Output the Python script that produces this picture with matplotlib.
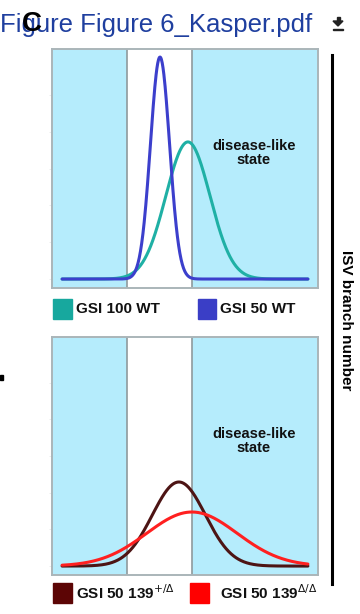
import numpy as np
import matplotlib

matplotlib.use("Agg")
import matplotlib.pyplot as plt
from matplotlib.patches import Rectangle, Polygon

plt.rcParams["font.family"] = ["Liberation Sans", "DejaVu Sans"]
plt.rcParams["mathtext.fontset"] = "dejavusans"

# normal range (unshaded band) on a 0-100 scale
normal_range = [28.2, 52.6]
x_span = [3.8, 96.2]

# top panel: normal distributions
top_labels = ["GSI 100 WT", "GSI 50 WT"]
top_means = [51.1, 40.6]
top_sds = [8.3, 3.6]
top_peaks = [0.596, 0.965]
top_line_colors = ["#1fb0a5", "#3c3fcc"]
top_box_colors = ["#17a89e", "#3a3ec6"]

# bottom panel
bot_labels = [r"GSI 50 139$^{+/\Delta}$", r"GSI 50 139$^{\Delta/\Delta}$"]
bot_means = [47.7, 52.6]
bot_sds = [10.0, 17.0]
bot_peaks = [0.367, 0.236]
bot_line_colors = ["#4d1414", "#ff2020"]
bot_box_colors = ["#5c0505", "#ff0000"]

W, H = 360, 614
BAND = "#b5ecfc"


def fx(px):
    return px / W


def fy(py):
    return 1 - py / H


def panel(ax, means, sds, peaks, colors):
    ax.set_xlim(0, 100)
    ax.set_ylim(-0.039, 1)
    ax.axvspan(0, normal_range[0], color=BAND, lw=0, zorder=0)
    ax.axvspan(normal_range[1], 100, color=BAND, lw=0, zorder=0)
    for v in normal_range:
        ax.axvline(v, color="#8f9a9c", lw=1.2, zorder=1)
    x = np.linspace(x_span[0], x_span[1], 600)
    for m, s, p, c in zip(means, sds, peaks, colors):
        ax.plot(x, p * np.exp(-0.5 * ((x - m) / s) ** 2), color=c, lw=2.2,
                solid_capstyle="round", zorder=3)
    for sp in ax.spines.values():
        sp.set_color("#aab5b9")
        sp.set_linewidth(1.4)
    ax.set_xticks([])
    ax.set_yticks([0, 0.16, 0.32, 0.48, 0.64, 0.80])
    ax.tick_params(axis="y", length=2, width=0.5, color="#e4e7e8", labelleft=False)
    ax.text(75.9, 0.547, "disease-like\nstate", ha="center", va="center",
            fontsize=10.5, fontweight="bold", linespacing=1.0, color="#111111")


fig = plt.figure(figsize=(3.6, 6.14), dpi=100)

ax1 = fig.add_axes([fx(52), fy(288), fx(266), 239 / H])
panel(ax1, top_means, top_sds, top_peaks, top_line_colors)
ax2 = fig.add_axes([fx(52), fy(575), fx(266), 238 / H])
panel(ax2, bot_means, bot_sds, bot_peaks, bot_line_colors)

# legends
def legend_item(x0, xt, yc, color, label, size):
    fig.patches.append(Rectangle((fx(x0), fy(yc + 10)), fx(size), 20 / H,
                                 transform=fig.transFigure, color=color))
    fig.text(fx(xt), fy(yc), label, ha="left", va="center", fontsize=11,
             fontweight="bold", color="#111111")


legend_item(53, 76, 309, top_box_colors[0], top_labels[0], 19)
legend_item(198, 220, 309, top_box_colors[1], top_labels[1], 18)
legend_item(53, 76, 593, bot_box_colors[0], bot_labels[0], 19)
legend_item(190, 220, 593, bot_box_colors[1], bot_labels[1], 19)

# shared y label bar
fig.add_artist(plt.Line2D([fx(332), fx(332)], [fy(55), fy(584)], color="black", lw=2.2))
fig.text(fx(346), fy(320), "ISV branch number", rotation=270, ha="center",
         va="center", fontsize=11, fontweight="bold")

# header
fig.text(fx(312), fy(32), "Figure Figure 6_Kasper.pdf", ha="right", va="baseline",
         fontsize=18.5, color="#1f3f9f")
fig.text(fx(32), fy(24), "C", ha="center", va="center", fontsize=20,
         fontweight="bold", color="black")
fig.patches.append(Polygon([[fx(333), fy(21)], [fx(343), fy(21)], [fx(338), fy(26)]],
                           closed=True, transform=fig.transFigure, color="#222222"))
fig.patches.append(Rectangle((fx(336.5), fy(21)), fx(3), 4 / H,
                             transform=fig.transFigure, color="#222222"))
fig.patches.append(Rectangle((fx(333), fy(30)), fx(10), 1.5 / H,
                             transform=fig.transFigure, color="#222222"))
fig.patches.append(Rectangle((0, fy(380)), fx(2.5), 5 / H,
                             transform=fig.transFigure, color="black"))

fig.savefig("out.png", dpi=100)
